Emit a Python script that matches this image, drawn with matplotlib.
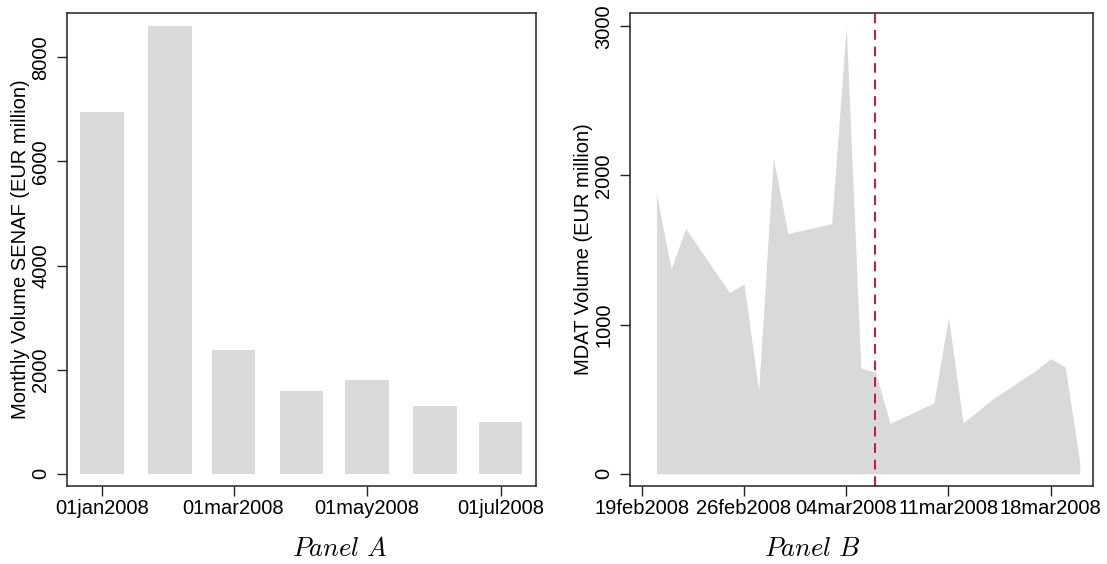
import numpy as np
import matplotlib
matplotlib.use("Agg")
import matplotlib.pyplot as plt
import matplotlib.dates as mdates

plt.rcParams['font.family'] = ['Liberation Sans', 'DejaVu Sans']
plt.rcParams['mathtext.fontset'] = 'cm'

# Panel A: monthly SENAF volume (EUR million)
months = np.array(['2008-01-01', '2008-02-01', '2008-03-01', '2008-04-01',
                   '2008-05-01', '2008-06-01', '2008-07-01'], dtype='datetime64[D]')
senaf = [6950, 8610, 2380, 1585, 1810, 1310, 990]
a_ticks = np.array(['2008-01-01', '2008-03-01', '2008-05-01', '2008-07-01'], dtype='datetime64[D]')
a_labels = ['01jan2008', '01mar2008', '01may2008', '01jul2008']

# Panel B: daily MDAT volume (EUR million)
days = np.array(['2008-02-20', '2008-02-21', '2008-02-22', '2008-02-25', '2008-02-26',
                 '2008-02-27', '2008-02-28', '2008-02-29', '2008-03-03', '2008-03-04',
                 '2008-03-05', '2008-03-06', '2008-03-07', '2008-03-10', '2008-03-11',
                 '2008-03-12', '2008-03-13', '2008-03-14', '2008-03-17', '2008-03-18',
                 '2008-03-19', '2008-03-20'], dtype='datetime64[D]')
mdat = [1880, 1372, 1645, 1215, 1273, 558, 2116, 1611, 1677, 3000,
        710, 681, 338, 475, 1050, 340, 420, 499, 694, 772, 716, 74]
b_ticks = np.array(['2008-02-19', '2008-02-26', '2008-03-04', '2008-03-11', '2008-03-18'],
                   dtype='datetime64[D]')
b_labels = ['19feb2008', '26feb2008', '04mar2008', '11mar2008', '18mar2008']
event_day = np.datetime64('2008-03-06')

grey = '#d9d9d9'
W, H = 1107, 564
fig = plt.figure(figsize=(W / 100, H / 100), dpi=100)
axA = fig.add_axes([67 / W, 1 - 486 / H, (536 - 67) / W, (486 - 13) / H])
axB = fig.add_axes([630 / W, 1 - 486 / H, (1093 - 630) / W, (486 - 13) / H])


def style(ax):
    for s in ax.spines.values():
        s.set_linewidth(1.1)
        s.set_color('#222222')
    ax.tick_params(axis='both', labelsize=14.5, length=7, width=1, color='#222222')
    ax.tick_params(axis='x', pad=2)
    ax.tick_params(axis='y', pad=5)
    for lab in ax.get_yticklabels():
        lab.set_rotation(90)
        lab.set_va('center')


# Panel A
xa = mdates.date2num(months.astype('O'))
axA.bar(xa, senaf, width=20, color=grey, linewidth=0)
ta = mdates.date2num(a_ticks.astype('O'))
axA.set_xticks(ta)
axA.set_xticklabels(a_labels)
x0 = mdates.date2num(np.datetime64('2008-01-01').astype('O'))
axA.set_xlim(x0 - 16.1, x0 + 198.2)
axA.set_ylim(-235, 8851)
axA.set_yticks([0, 2000, 4000, 6000, 8000])
axA.set_ylabel('Monthly Volume SENAF (EUR million)', fontsize=14.5, labelpad=1)
style(axA)

# Panel B
xb = mdates.date2num(days.astype('O'))
axB.fill_between(xb, mdat, 0, color=grey, linewidth=0)
tb = mdates.date2num(b_ticks.astype('O'))
axB.set_xticks(tb)
axB.set_xticklabels(b_labels)
axB.axvline(mdates.date2num(event_day.astype('O')), color='#c8163f', lw=1.4,
            dashes=(5, 3.5))
axB.set_xlim(tb[0] - 0.81, tb[0] + 30.9)
axB.set_ylim(-82, 3089)
axB.set_yticks([0, 1000, 2000, 3000])
axB.set_ylabel('MDAT Volume (EUR million)', fontsize=14.5, labelpad=1)
style(axB)

fig.text(340 / W, 1 - 549 / H, r'$Panel\ A$', fontsize=19, ha='center', va='center')
fig.text(812 / W, 1 - 549 / H, r'$Panel\ B$', fontsize=19, ha='center', va='center')

fig.savefig('out.png', dpi=100)
